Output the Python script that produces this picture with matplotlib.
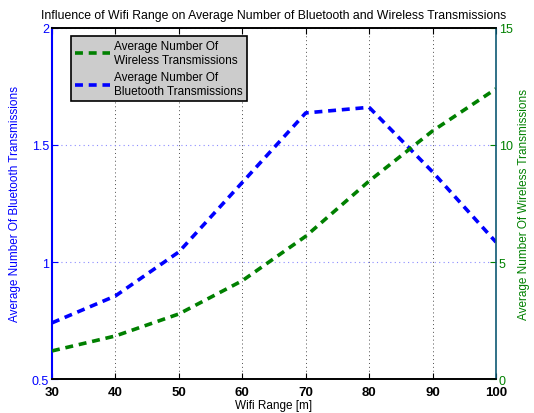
import matplotlib
matplotlib.use("Agg")
import matplotlib.pyplot as plt

plt.rcParams['font.family'] = ['Liberation Sans', 'DejaVu Sans']

wifi_range = [30, 40, 50, 60, 70, 80, 90, 100]
bluetooth = [0.74, 0.855, 1.043, 1.34, 1.637, 1.661, 1.385, 1.085]
wireless = [1.2, 1.84, 2.78, 4.2, 6.1, 8.46, 10.6, 12.4]

blue = (0, 0, 1)
green = (0, 0.5, 0)

fig = plt.figure(figsize=(5.34, 4.14), dpi=100)
ax = fig.add_axes([0.0974, 0.0821, 0.9288 - 0.0974, 0.93 - 0.0821])
ax2 = ax.twinx()

lb, = ax.plot(wifi_range, bluetooth, color=blue, lw=2.6, ls=(0, (2.2, 1.6)),
              label='Average Number Of\nBluetooth Transmissions')
lg, = ax2.plot(wifi_range, wireless, color=green, lw=2.6, ls=(0, (2.2, 1.6)),
               label='Average Number Of\nWireless Transmissions')

ax.set_xlim(30, 100)
ax.set_ylim(0.5, 2)
ax2.set_ylim(0, 15)
ax.set_xticks(wifi_range)
ax.set_yticks([0.5, 1, 1.5, 2])
ax.set_yticklabels(['0.5', '1', '1.5', '2'])
ax2.set_yticks([0, 5, 10, 15])

ax.xaxis.grid(True, color='0.3', ls=(0, (1, 3)), lw=0.7)
ax.yaxis.grid(True, color=(0.55, 0.55, 1), ls=(0, (1, 3)), lw=0.8)

ax.tick_params(axis='x', direction='in', top=True, labelsize=9.5, colors='black', length=4, pad=5)
ax.tick_params(axis='y', direction='in', labelsize=9, colors=blue, length=4, pad=2)
ax2.tick_params(axis='y', direction='in', labelsize=9, colors=green, length=4, pad=2)
for lab in ax.get_xticklabels():
    lab.set_fontweight('bold')

ax.spines['left'].set_color(blue)
ax.spines['left'].set_linewidth(1.5)
ax2.spines['left'].set_visible(False)
ax2.spines['right'].set_color((0.05, 0.35, 0.45))
ax2.spines['right'].set_linewidth(1.2)
ax.spines['right'].set_visible(False)
for s in ['top', 'bottom']:
    ax.spines[s].set_linewidth(1.2)
    ax2.spines[s].set_linewidth(1.2)

ax.set_xlabel('Wifi Range [m]', fontsize=8.5, labelpad=1)
ax.set_ylabel('Average Number Of Bluetooth Transmissions', fontsize=8.5, color=blue, labelpad=8)
ax2.set_ylabel('Average Number Of Wireless Transmissions', fontsize=8.5, color=green, labelpad=4)
ax.set_title('Influence of Wifi Range on Average Number of Bluetooth and Wireless Transmissions',
             fontsize=8.8, pad=7)

leg = ax2.legend([lg, lb], [lg.get_label(), lb.get_label()], loc='upper left',
                 bbox_to_anchor=(0.03, 0.995), fontsize=8.5, frameon=True, fancybox=False,
                 handlelength=2.9, labelspacing=0.5, borderpad=0.35, handletextpad=0.4)
leg.get_frame().set_facecolor((0.8, 0.8, 0.8))
leg.get_frame().set_edgecolor('black')
leg.get_frame().set_linewidth(1.2)
leg.get_frame().set_alpha(1)

fig.savefig('out.png', dpi=100)
